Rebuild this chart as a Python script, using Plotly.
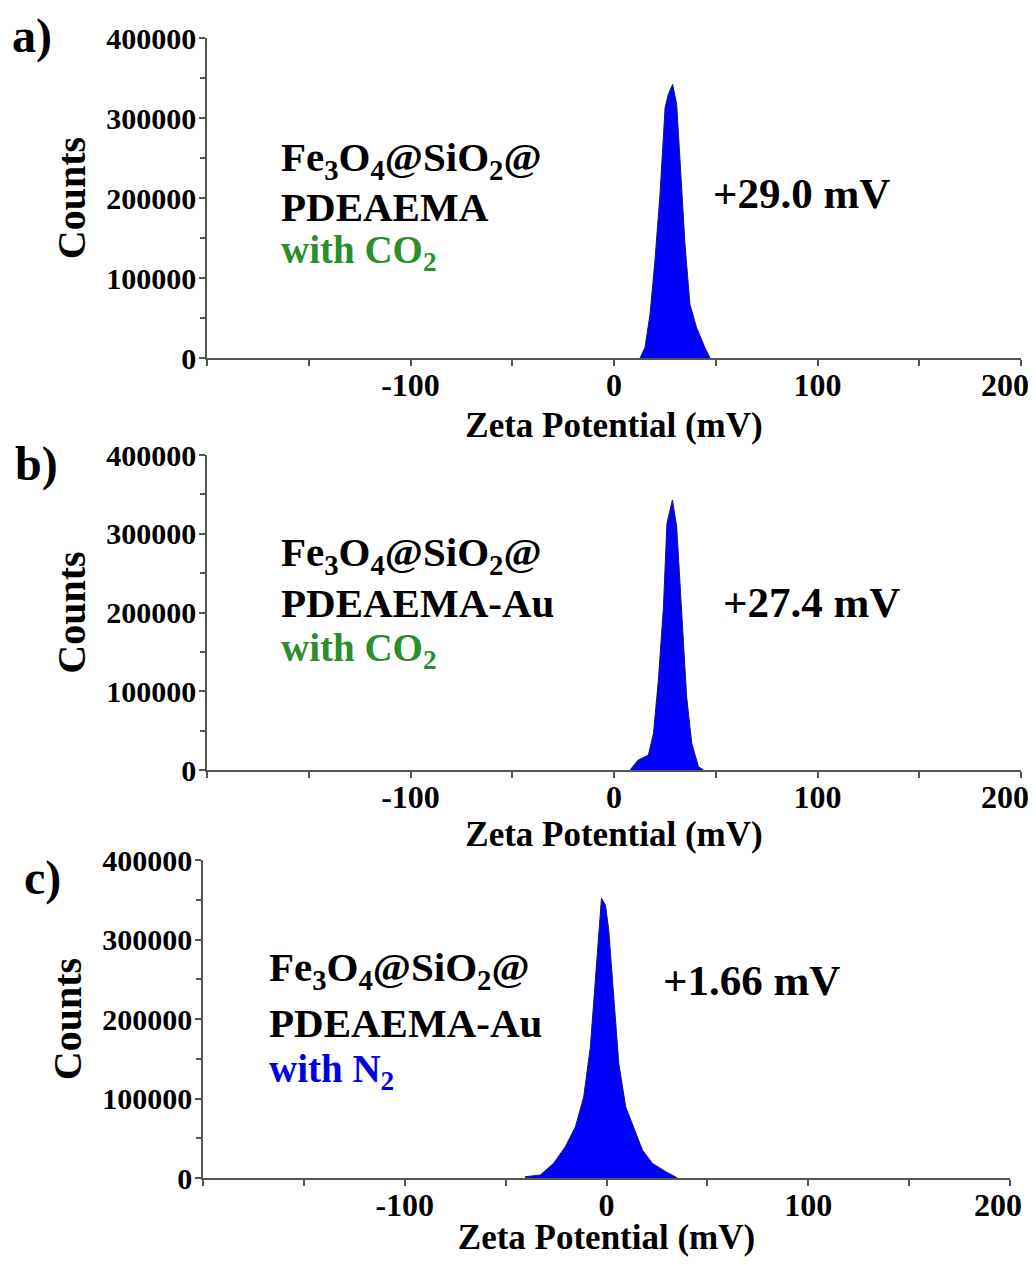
import plotly.graph_objects as go

# ---- data ----
zeta_a = [12.8, 15.2, 17.7, 20.1, 22.6, 25.1, 26.7, 28.8, 30.8, 32.4, 34.9, 37.3, 40.6, 44.7, 47.2]
counts_a = [0, 12900, 54600, 121000, 204600, 312900, 329600, 342000, 317000, 246000, 142000, 67100, 37900, 12900, 0]

zeta_b = [7.9, 11.9, 16.9, 19.4, 21.8, 24.3, 26.0, 28.7, 30.8, 33.3, 35.7, 38.2, 41.5, 44.0]
counts_b = [0, 12700, 19000, 46600, 114000, 207000, 313000, 343000, 309000, 199000, 93000, 33900, 4200, 0]

zeta_c = [-40.3, -32.8, -26.2, -20.4, -15.4, -11.3, -8.0, -5.5, -3.8, -2.5, -0.5, 1.1, 3.6, 6.1,
          9.5, 14.4, 17.8, 22.7, 29.4, 35.2]
counts_c = [1600, 3800, 18500, 39400, 64500, 102000, 165000, 249000, 312000, 352000, 343000,
            312000, 228000, 144000, 89700, 56200, 35200, 18500, 7900, 0]

x_tickvals = [-200, -150, -100, -50, 0, 50, 100, 150, 200]
x_ticktext = ["", "", "-100", "", "0", "", "100", "", "200"]
y_tickvals = [0, 100000, 200000, 300000, 400000]
y_ticktext = ["0", "100000", "200000", "300000", "400000"]
y_minorvals = [50000, 150000, 250000, 350000]

panel_labels = ["a)", "b)", "c)"]
zeta_values = ["+29.0 mV", "+27.4 mV", "+1.66 mV"]
sample_line1 = "Fe<sub>3</sub>O<sub>4</sub>@SiO<sub>2</sub>@"
sample_line2 = ["PDEAEMA", "PDEAEMA-Au", "PDEAEMA-Au"]
gas_text = ["with CO<sub>2</sub>", "with CO<sub>2</sub>", "with N<sub>2</sub>"]
gas_color = ["#2a8f2a", "#2a8f2a", "#0000e6"]

# ---- layout geometry (page has an 8px body margin) ----
OFF = 8
W, H = 1036 - 2 * OFF, 1265 - 2 * OFF
FONT = "Liberation Serif, Times New Roman, serif"
AX = "#555555"

def px(x):
    return (x - OFF) / W

def py(y):
    return 1 - (y - OFF) / H

x_domains = [[px(207), px(1021)], [px(207), px(1021)], [px(203), px(1010)]]
y_domains = [[py(358), py(38)], [py(770), py(455)], [py(1178), py(860)]]
title_standoff = [10, 6, 15]
# the "200" label is pulled left to stay inside the page
last_pad = ["&nbsp;" * 4, "&nbsp;" * 4, "&nbsp;" * 3]

fig = go.Figure()
series = [(zeta_a, counts_a), (zeta_b, counts_b), (zeta_c, counts_c)]
for i, (xs, ys) in enumerate(series):
    suf = "" if i == 0 else str(i + 1)
    fig.add_trace(go.Scatter(
        x=xs, y=ys, mode="lines", fill="tozeroy",
        fillcolor="#0000ff", line=dict(color="#1a1a5e", width=1),
        xaxis="x" + suf, yaxis="y" + suf, showlegend=False, hoverinfo="skip"))

layout = dict(
    width=W, height=H, margin=dict(l=0, r=0, t=0, b=0, autoexpand=False),
    paper_bgcolor="white", plot_bgcolor="white",
    font=dict(family=FONT, color="black"),
    showlegend=False,
)
for i in range(3):
    suf = "" if i == 0 else str(i + 1)
    ttext = list(x_ticktext)
    ttext[-1] = ttext[-1] + last_pad[i]
    layout["xaxis" + suf] = dict(
        domain=x_domains[i], anchor="y" + suf, range=[-200, 200], automargin=False,
        tickmode="array", tickvals=x_tickvals, ticktext=ttext,
        ticks="outside", ticklen=6, tickcolor=AX, tickwidth=1.5,
        ticklabeloverflow="allow", ticklabelstandoff=-8,
        showline=True, linecolor=AX, linewidth=1.5, showgrid=False, zeroline=False,
        tickfont=dict(family=FONT, size=32, color="black", weight="bold"),
        title=dict(text="<b>Zeta Potential (mV)</b>", font=dict(family=FONT, size=35, color="black"),
                   standoff=title_standoff[i]),
    )
    layout["yaxis" + suf] = dict(
        domain=y_domains[i], anchor="x" + suf, range=[0, 400000], automargin=False,
        tickmode="array", tickvals=y_tickvals, ticktext=y_ticktext,
        ticks="outside", ticklen=6, tickcolor=AX, tickwidth=1.5,
        ticklabeloverflow="allow", ticklabelstandoff=-3,
        minor=dict(tickvals=y_minorvals, ticks="outside", ticklen=5,
                   tickcolor=AX, tickwidth=1.5, showgrid=False),
        showline=True, linecolor=AX, linewidth=1.5, showgrid=False, zeroline=False,
        tickfont=dict(family=FONT, size=30, color="black", weight="bold"),
        title=dict(text="<b>Counts</b>", font=dict(family=FONT, size=40, color="black"),
                   standoff=8),
    )
fig.update_layout(**layout)

# ---- annotations ----
label_pos = [(32, 36), (36, 464), (42, 878)]
text_left = [279, 279, 267]
line_y = [(160, 207, 253), (555, 603, 650), (970, 1023, 1071)]
zeta_pos = [(801, 193), (811, 603), (751, 980)]

def ann(x, y, text, size, color="black", xanchor="center"):
    fig.add_annotation(x=px(x), y=py(y), xref="paper", yref="paper",
                       xanchor=xanchor, yanchor="middle", text=text, showarrow=False,
                       font=dict(family=FONT, size=size, color=color))

for i in range(3):
    lx, ly = label_pos[i]
    ann(lx, ly, "<b>" + panel_labels[i] + "</b>", 48)
    y1, y2, y3 = line_y[i]
    ann(text_left[i], y1, "<b>" + sample_line1 + "</b>", 41, xanchor="left")
    ann(text_left[i], y2, "<b>" + sample_line2[i] + "</b>", 41, xanchor="left")
    ann(text_left[i], y3, "<b>" + gas_text[i] + "</b>", 39, color=gas_color[i], xanchor="left")
    zx, zy = zeta_pos[i]
    ann(zx, zy, "<b>" + zeta_values[i] + "</b>", 43)

fig.write_html("out.html")
